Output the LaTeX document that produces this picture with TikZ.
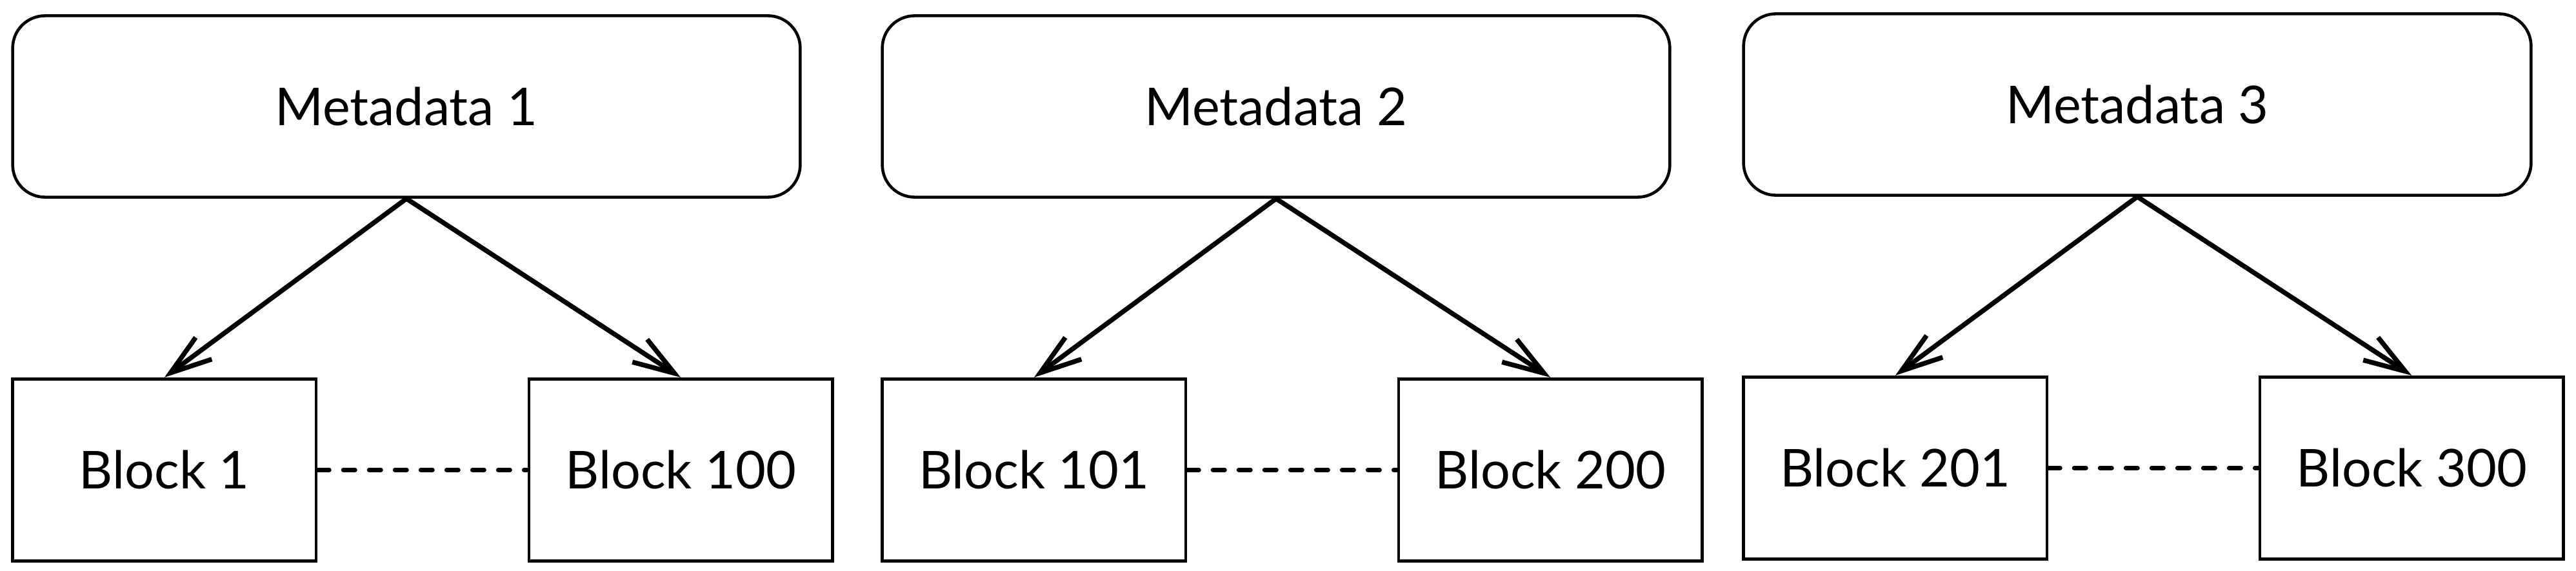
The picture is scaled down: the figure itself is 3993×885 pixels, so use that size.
\documentclass[tikz,border=0pt]{standalone}
\usepackage{fontspec}
\setmainfont{Lato}
\usetikzlibrary{arrows.meta}

\begin{document}
\begin{tikzpicture}[x=0.01cm,y=-0.01cm,level distance=5.63cm,sibling distance=8cm,
      every node/.style={shape=rectangle,align=center,font=\fontsize{23}{27}\selectfont},
      meta/.style={draw,line width=1.3pt,rounded corners=0.5cm,minimum width=12.2cm,minimum height=2.81cm},
      blockbox/.style={draw,line width=1.3pt,minimum width=4.7cm,minimum height=2.82cm},
      edge from parent/.style={draw,line width=2.1pt,-{Straight Barb[length=6.4mm,width=4.2mm]}},
      edge from parent path={(\tikzparentnode.south) -- (\tikzchildnode.north)},
      gap/.style={draw,line width=2pt,line cap=round,dash pattern=on 1.8mm off 2.2mm}]
      \useasboundingbox (0,0) rectangle (3993,885);
      \node[meta] (m1) at (630,165) {Metadata 1}
        child[xshift=0.25cm]{node[blockbox] (b1) {Block 1}}
        child[xshift=0.25cm]{node[blockbox] (b100) {Block 100}};
      \node[meta] (m2) at (1978,165) {Metadata 2}
        child[xshift=0.25cm]{node[blockbox] (b101) {Block 101}}
        child[xshift=0.25cm]{node[blockbox] (b200) {Block 200}};
      \node[meta] (m3) at (3313,162) {Metadata 3}
        child[xshift=0.25cm]{node[blockbox] (b201) {Block 201}}
        child[xshift=0.25cm]{node[blockbox] (b300) {Block 300}};
      % blocks in between are left out
      \draw[gap] (b1) -- (b100);
      \draw[gap] (b101) -- (b200);
      \draw[gap] (b201) -- (b300);
\end{tikzpicture}
\end{document}
